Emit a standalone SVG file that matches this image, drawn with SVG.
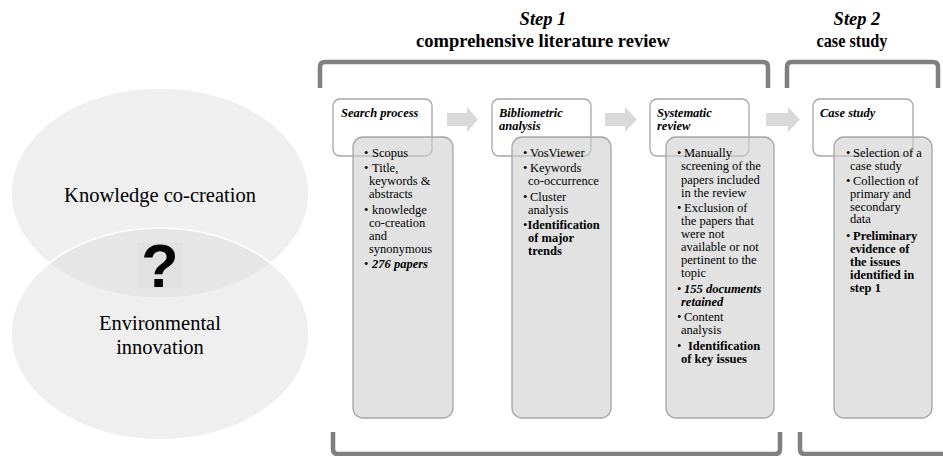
<svg xmlns="http://www.w3.org/2000/svg" width="943" height="456" viewBox="0 0 943 456" font-family="'Liberation Serif','Times New Roman',serif">
<style>
text{font-family:"Liberation Serif","Times New Roman",serif;fill:#000}
.big{font-size:20.5px}
.step{font-size:18.5px;font-weight:bold;text-anchor:middle}
.si{font-style:italic}
.hd{font-size:12.5px;font-weight:bold;font-style:italic}
.tx{font-size:12.5px}
.b{font-weight:bold}
.bi{font-weight:bold;font-style:italic}
.ell{fill:#dadada;fill-opacity:0.44;stroke:#ffffff;stroke-width:1.5}
.head{fill:#ffffff;stroke:#a6a6a6;stroke-width:1.3}
.det{fill:#cfcfcf;fill-opacity:0.6;stroke:#a6a6a6;stroke-width:1.3}
.brk{fill:none;stroke:#808080;stroke-width:4.5}
.arr{fill:#d9d9d9}
</style>
<rect width="943" height="456" fill="#ffffff"/>

<g id="venn">
<ellipse class="ell" cx="160" cy="193" rx="149" ry="105"/>
<ellipse class="ell" cx="160" cy="334" rx="149" ry="106"/>
<rect x="137" y="243" width="46" height="45" fill="#000" fill-opacity="0.02"/>
<text class="big" x="160" y="202" text-anchor="middle">Knowledge co-creation</text>
<text class="big" x="160" y="330" text-anchor="middle">Environmental</text>
<text class="big" x="160" y="354" text-anchor="middle">innovation</text>
<text x="160" y="287" text-anchor="middle" style="font-family:'Liberation Sans',Arial,sans-serif;font-weight:bold;font-size:61px">?</text>
</g>

<g id="titles">
<text class="step si" x="543" y="25">Step 1</text>
<text class="step" x="543" y="47">comprehensive literature review</text>
<text class="step si" x="857" y="25">Step 2</text>
<text class="step" x="852" y="47" textLength="71" lengthAdjust="spacingAndGlyphs">case study</text>
</g>

<g id="brackets">
<path class="brk" d="M320,88 V67 Q320,62 325,62 H763 Q768,62 768,67 V88"/>
<path class="brk" d="M787,88 V67 Q787,62 792,62 H933 Q938,62 938,67 V88"/>
<path class="brk" d="M333,432 V449 Q333,454 338,454 H775 Q780,454 780,449 V432"/>
<path class="brk" d="M800,432 V449 Q800,454 805,454 H948"/>
</g>

<g id="connectors">
<polygon class="arr" points="447,113 467,113 467,107 478,119.5 467,132 467,126 447,126"/>
<polygon class="arr" points="605,113 625,113 625,107 637,119.5 625,132 625,126 605,126"/>
<polygon class="arr" points="766,113 788,113 788,107 800,119.5 788,132 788,126 766,126"/>
</g>

<g id="search">
<rect class="head" x="333" y="99" width="99" height="57" rx="7"/>
<text class="hd" x="341" y="117">Search process</text>
<rect class="det" x="353" y="137" width="100" height="281" rx="10"/>
<g class="tx">
<text x="364" y="157">•</text><text x="372" y="157">Scopus</text>
<text x="364" y="172">•</text><text x="372" y="172">Title,</text>
<text x="369" y="185">keywords &amp;</text>
<text x="369" y="198">abstracts</text>
<text x="364" y="214">•</text><text x="372" y="214">knowledge</text>
<text x="369" y="227">co-creation</text>
<text x="369" y="240">and</text>
<text x="369" y="253">synonymous</text>
<text x="364" y="268">•</text><text class="bi" x="372" y="268">276 papers</text>
</g>
</g>

<g id="bibliometric">
<rect class="head" x="492" y="99" width="99" height="57" rx="7"/>
<text class="hd" x="499" y="117">Bibliometric</text>
<text class="hd" x="499" y="129.5">analysis</text>
<rect class="det" x="512" y="137" width="99" height="281" rx="10"/>
<g class="tx">
<text x="523" y="157">•</text><text x="530" y="157">VosViewer</text>
<text x="523" y="172">•</text><text x="530" y="172">Keywords</text>
<text x="528" y="185">co-occurrence</text>
<text x="523" y="201">•</text><text x="530" y="201">Cluster</text>
<text x="528" y="213.5">analysis</text>
<text x="523" y="229">•</text><text class="b" x="527.5" y="229">Identification</text>
<text class="b" x="528" y="242">of major</text>
<text class="b" x="528" y="255">trends</text>
</g>
</g>

<g id="systematic">
<rect class="head" x="650" y="99" width="99" height="57" rx="7"/>
<text class="hd" x="657" y="117">Systematic</text>
<text class="hd" x="657" y="130">review</text>
<rect class="det" x="666" y="137" width="108" height="281" rx="10"/>
<g class="tx">
<text x="677" y="157">•</text><text x="684" y="157">Manually</text>
<text x="681" y="170">screening of the</text>
<text x="681" y="183.5">papers included</text>
<text x="681" y="196.5">in the review</text>
<text x="677" y="212">•</text><text x="684" y="212">Exclusion of</text>
<text x="681" y="225">the papers that</text>
<text x="681" y="238">were not</text>
<text x="681" y="251">available or not</text>
<text x="681" y="264">pertinent to the</text>
<text x="681" y="277">topic</text>
<text x="677" y="293">•</text><text class="bi" x="684" y="293">155 documents</text>
<text class="bi" x="681" y="305.5">retained</text>
<text x="677" y="321">•</text><text x="684" y="321">Content</text>
<text x="681" y="333.5">analysis</text>
<text x="677" y="350">•</text><text class="b" x="688" y="350">Identification</text>
<text class="b" x="681" y="362.5">of key issues</text>
</g>
</g>

<g id="casestudy">
<rect class="head" x="813" y="99" width="100" height="57" rx="7"/>
<text class="hd" x="820" y="117">Case study</text>
<rect class="det" x="834" y="137" width="98" height="281" rx="10"/>
<g class="tx">
<text x="846" y="157">•</text><text x="853" y="157">Selection of a</text>
<text x="850" y="170">case study</text>
<text x="846" y="185">•</text><text x="853" y="185">Collection of</text>
<text x="850" y="198">primary and</text>
<text x="850" y="210.5">secondary</text>
<text x="850" y="223">data</text>
<text x="846" y="240">•</text><text class="b" x="853" y="240">Preliminary</text>
<text class="b" x="850" y="253">evidence of</text>
<text class="b" x="850" y="266">the issues</text>
<text class="b" x="850" y="279">identified in</text>
<text class="b" x="850" y="292">step 1</text>
</g>
</g>
</svg>
